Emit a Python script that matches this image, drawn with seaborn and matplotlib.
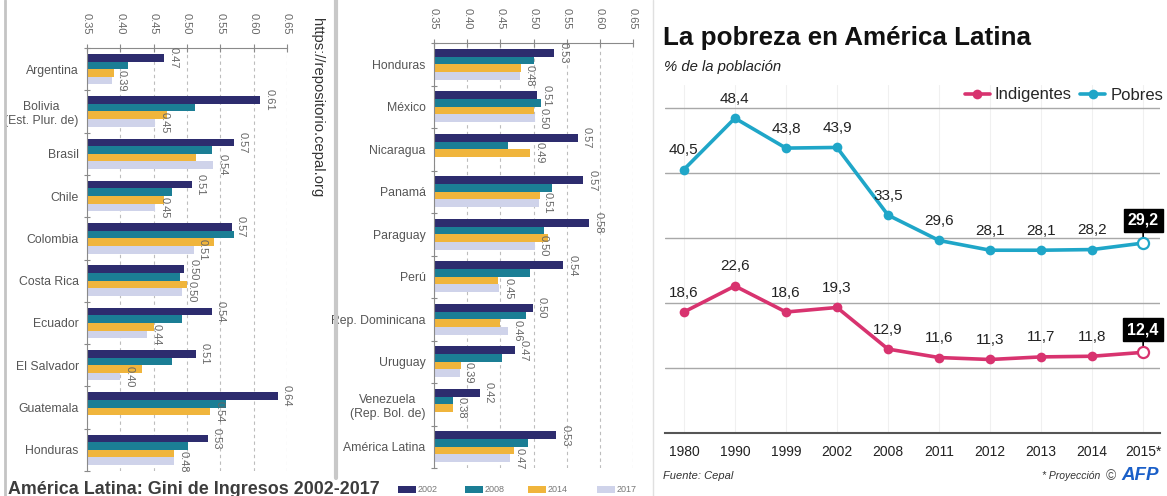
import numpy as np
import pandas as pd
import matplotlib
matplotlib.use("Agg")
import matplotlib.pyplot as plt
import seaborn as sns
from matplotlib import font_manager as fm
from matplotlib.lines import Line2D
from matplotlib.patches import Rectangle

# ---------------- data ----------------
gini_years = ["2002", "2008", "2014", "2017"]

left_countries = ["Argentina", "Bolivia\n(Est. Plur. de)", "Brasil", "Chile", "Colombia",
                  "Costa Rica", "Ecuador", "El Salvador", "Guatemala", "Honduras"]
left_2002 = [0.466, 0.610, 0.570, 0.507, 0.567, 0.496, 0.537, 0.513, 0.636, 0.531]
left_2008 = [0.412, 0.512, 0.537, 0.477, 0.571, 0.490, 0.492, 0.477, 0.558, 0.501]
left_2014 = [0.390, 0.470, 0.514, 0.465, 0.540, 0.500, 0.450, 0.432, 0.535, 0.481]
left_2017 = [0.388, 0.452, 0.539, 0.452, 0.510, 0.493, 0.440, 0.400, np.nan, 0.481]
left_label_a = ["0.47", "0.61", "0.57", "0.51", "0.57", "0.50", "0.54", "0.51", "0.64", "0.53"]
left_label_b = ["0.39", "0.45", "0.54", "0.45", "0.51", "0.50", "0.44", "0.40", "0.54", "0.48"]
left_label_b_year = ["2017", "2017", "2017", "2017", "2017", "2017", "2017", "2017", "2014", "2017"]

mid_countries = ["Honduras", "México", "Nicaragua", "Panamá", "Paraguay", "Perú",
                 "Rep. Dominicana", "Uruguay", "Venezuela\n(Rep. Bol. de)", "América Latina"]
mid_2002 = [0.531, 0.506, 0.567, 0.575, 0.584, 0.545, 0.499, 0.472, 0.419, 0.534]
mid_2008 = [0.501, 0.512, 0.462, 0.528, 0.516, 0.495, 0.489, 0.453, 0.378, 0.492]
mid_2014 = [0.481, 0.501, 0.495, 0.510, 0.522, 0.447, 0.449, 0.391, 0.378, 0.470]
mid_2017 = [0.480, 0.502, np.nan, 0.508, 0.502, 0.448, 0.462, 0.389, np.nan, 0.465]
mid_label_a = ["0.53", "0.51", "0.57", "0.57", "0.58", "0.54", "0.50", "0.47", "0.42", "0.53"]
mid_label_b = ["0.48", "0.50", "0.49", "0.51", "0.50", "0.45", "0.46", "0.39", "0.38", "0.47"]
mid_label_b_year = ["2017", "2017", "2014", "2017", "2017", "2017", "2017", "2017", "2014", "2017"]

gini_ticks = [0.35, 0.40, 0.45, 0.50, 0.55, 0.60, 0.65]

pov_years = ["1980", "1990", "1999", "2002", "2008", "2011", "2012", "2013", "2014", "2015*"]
pobres = [40.5, 48.4, 43.8, 43.9, 33.5, 29.6, 28.1, 28.1, 28.2, 29.2]
indigentes = [18.6, 22.6, 18.6, 19.3, 12.9, 11.6, 11.3, 11.7, 11.8, 12.4]

# ---------------- style ----------------
sns.set_theme(style="white")
names = {f.name for f in fm.fontManager.ttflist}
NARROW = "Liberation Sans Narrow" if "Liberation Sans Narrow" in names else "Liberation Sans"
plt.rcParams["font.family"] = [NARROW, "DejaVu Sans"]

gini_colors = ["#2d2c6e", "#1b7e95", "#f0b53c", "#cfd3ea"]
PINK = "#d8336f"
CYAN = "#1fa6c8"

W, H = 1167, 496
fig = plt.figure(figsize=(W / 100, H / 100), dpi=100)
fig.patch.set_facecolor("white")


def fx(px):
    return px / W


def fy(py):
    return 1 - py / H


def gini_panel(rect, countries, cols, lab_a, lab_b, lab_b_year):
    ax = fig.add_axes(rect)
    rows = []
    for yr, vals in zip(gini_years, cols):
        for c, v in zip(countries, vals):
            rows.append({"country": c, "year": yr, "value": v})
    df = pd.DataFrame(rows)
    sns.barplot(data=df, y="country", x="value", hue="year", order=countries,
                hue_order=gini_years, palette=gini_colors, orient="h", width=0.72,
                saturation=1, linewidth=0, legend=False, ax=ax)
    ax.set_xlim(0.35, 0.65)
    ax.set_ylim(len(countries) - 0.5, -0.5)
    ax.set_xticks(gini_ticks)
    ax.set_xticklabels([f"{t:.2f}" for t in gini_ticks])
    ax.xaxis.tick_top()
    ax.tick_params(axis="x", top=True, bottom=False, labeltop=True, labelbottom=False,
                   labelrotation=-90, length=6, width=0.8, direction="inout",
                   color="#8a8a8a", labelsize=8, labelcolor="#666666", pad=7)
    ax.set_yticks(range(len(countries)))
    ax.set_yticks(np.arange(-0.5, len(countries), 1.0), minor=True)
    ax.tick_params(axis="y", which="major", length=0, labelsize=8.8, labelcolor="#555555", pad=6)
    ax.tick_params(axis="y", which="minor", length=4, width=0.8, color="#8a8a8a",
                   direction="inout", left=True)
    for t in ax.get_yticklabels():
        t.set_multialignment("center")
    ax.grid(axis="x", linestyle=(0, (3, 3)), color="#bdbdbd", linewidth=0.8)
    ax.grid(axis="y", visible=False)
    ax.set_axisbelow(True)
    for s in ["right", "bottom"]:
        ax.spines[s].set_visible(False)
    for s in ["left", "top"]:
        ax.spines[s].set_color("#8a8a8a")
        ax.spines[s].set_linewidth(0.8)
    ax.set_xlabel("")
    ax.set_ylabel("")

    def bar_for(ci, yr):
        cont = ax.containers[gini_years.index(yr)]
        for p in cont.patches:
            yc = p.get_y() + p.get_height() / 2
            if int(round(yc)) == ci and np.isfinite(p.get_width()) and p.get_width() > 0:
                return p
        return None

    for ci in range(len(countries)):
        for yr, txt in [("2002", lab_a[ci]), (lab_b_year[ci], lab_b[ci])]:
            p = bar_for(ci, yr)
            if p is None:
                continue
            xe = p.get_x() + p.get_width()
            yc = p.get_y() + p.get_height() / 2
            ax.annotate(txt, (xe, yc), xytext=(3, 0), textcoords="offset points",
                        rotation=-90, ha="left", va="center", fontsize=8, color="#666666",
                        annotation_clip=False)
    return ax


ax1 = gini_panel([fx(87), fy(471), fx(287) - fx(87), fy(48) - fy(471)], left_countries,
                 [left_2002, left_2008, left_2014, left_2017], left_label_a, left_label_b,
                 left_label_b_year)
ax2 = gini_panel([fx(434), fy(468), fx(633) - fx(434), fy(43) - fy(468)], mid_countries,
                 [mid_2002, mid_2008, mid_2014, mid_2017], mid_label_a, mid_label_b,
                 mid_label_b_year)

# url text
fig.text(fx(317), fy(18), "https://repositorio.cepal.org", rotation=-90, ha="center", va="top",
         fontsize=10.6, color="#333333", family=["Liberation Sans", "DejaVu Sans"])

# bottom title and legend
fig.text(fx(8), fy(494), "América Latina: Gini de Ingresos 2002-2017", ha="left", va="baseline",
         fontsize=12.9, fontweight="bold", color="#3d3d3d", family=["Liberation Sans", "DejaVu Sans"])
leg_x = [398, 465, 528, 597]
for x0, yr, col in zip(leg_x, gini_years, gini_colors):
    fig.add_artist(Rectangle((fx(x0), fy(493)), fx(18), 7 / H, transform=fig.transFigure,
                             facecolor=col, edgecolor="none"))
    fig.text(fx(x0 + 20), fy(489.5), yr, ha="left", va="center", fontsize=6.5, color="#777777")

# separator lines
fig.add_artist(Line2D([fx(5), fx(5)], [0, 1], transform=fig.transFigure, color="#c4c4c4", lw=2))
fig.add_artist(Line2D([fx(336), fx(336)], [fy(478), 1], transform=fig.transFigure,
                      color="#c8c8c8", lw=3))
fig.add_artist(Line2D([fx(653), fx(653)], [0, 1], transform=fig.transFigure, color="#e0e0e0", lw=1))

# ---------------- poverty line chart ----------------
ax3 = fig.add_axes([fx(665), fy(433), fx(1160) - fx(665), fy(85) - fy(433)])
df_pov = pd.DataFrame({
    "año": pov_years * 2,
    "valor": indigentes + pobres,
    "serie": ["Indigentes"] * len(pov_years) + ["Pobres"] * len(pov_years),
})
sns.lineplot(data=df_pov, x="año", y="valor", hue="serie", palette={"Indigentes": PINK, "Pobres": CYAN},
             marker="o", markersize=7, markeredgewidth=0, linewidth=2.6, sort=False,
             legend=False, ax=ax3)
ax3.plot([pov_years[-1]], [pobres[-1]], "o", ms=8, mfc="white", mec=CYAN, mew=1.6, zorder=5)
ax3.plot([pov_years[-1]], [indigentes[-1]], "o", ms=8, mfc="white", mec=PINK, mew=1.6, zorder=5)

ax3.set_xlim(-0.37, 9.33)
ax3.set_ylim(0, 53.5)
ax3.set_yticks([10, 20, 30, 40, 50])
ax3.set_yticklabels([])
ax3.tick_params(axis="y", length=0)
ax3.grid(axis="y", color="#a8a8a8", linewidth=1.0)
ax3.grid(axis="x", color="#f0f0f0", linewidth=0.8)
ax3.set_axisbelow(True)
for s in ["left", "right", "top"]:
    ax3.spines[s].set_visible(False)
ax3.spines["bottom"].set_color("#555555")
ax3.spines["bottom"].set_linewidth(1.5)
ax3.tick_params(axis="x", length=0, labelsize=10, labelcolor="#222222", pad=9)
ax3.set_xlabel("")
ax3.set_ylabel("")


def fmt(v):
    return f"{v:.1f}".replace(".", ",")


for series in (pobres, indigentes):
    for i, (yr, v) in enumerate(zip(pov_years, series)):
        if i < len(pov_years) - 1:
            ax3.annotate(fmt(v), (yr, v), xytext=(0, 9), textcoords="offset points",
                         ha="center", va="bottom", fontsize=11, color="#222222")
        else:
            ax3.annotate(fmt(v), (yr, v), xytext=(0, 11), textcoords="offset points",
                         ha="center", va="bottom", fontsize=11.5, fontweight="bold", color="white",
                         bbox=dict(boxstyle="square,pad=0.25", fc="black", ec="black"),
                         arrowprops=dict(arrowstyle="-", color="black", lw=1.2,
                                         shrinkA=0, shrinkB=4))

# titles
fig.text(fx(663), fy(45), "La pobreza en América Latina", ha="left", va="baseline",
         fontsize=18.7, fontweight="bold", color="#111111")
fig.text(fx(664), fy(71), "% de la población", ha="left", va="baseline",
         fontsize=10.7, style="italic", color="#222222")

handles = [Line2D([0], [0], color=PINK, lw=2.6, marker="o", ms=7, mew=0),
           Line2D([0], [0], color=CYAN, lw=2.6, marker="o", ms=7, mew=0)]
fig.legend(handles, ["Indigentes", "Pobres"], loc="center right", bbox_to_anchor=(fx(1163), fy(95)),
           ncol=2, frameon=False, fontsize=12, handlelength=1.5, handletextpad=0.3,
           columnspacing=0.5, borderaxespad=0, borderpad=0)

# footer
fig.text(fx(663), fy(479), "Fuente: Cepal", ha="left", va="baseline", fontsize=8,
         style="italic", color="#333333")
fig.text(fx(1042), fy(479), "* Proyección", ha="left", va="baseline", fontsize=7.5,
         style="italic", color="#333333")
fig.text(fx(1106), fy(480), "©", ha="left", va="baseline", fontsize=10, color="#555555",
         family=["Liberation Sans", "DejaVu Sans"])
fig.text(fx(1121), fy(480), "AFP", ha="left", va="baseline", fontsize=13.5, fontweight="bold",
         style="italic", color="#1a5fc8", family=["Liberation Sans", "DejaVu Sans"])

fig.savefig("out.png", dpi=100, facecolor="white")
